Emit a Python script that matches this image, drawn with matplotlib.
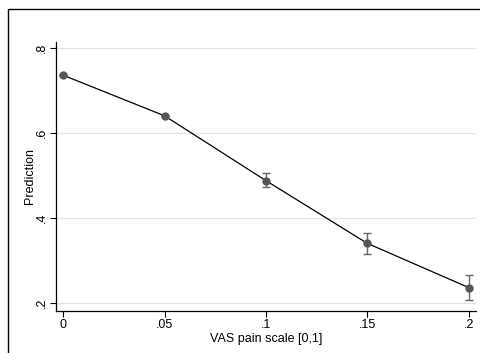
import matplotlib.pyplot as plt
from matplotlib.patches import Rectangle

plt.rcParams['font.family'] = ['Liberation Sans', 'DejaVu Sans']

vas = [0, 0.05, 0.1, 0.15, 0.2]
pred = [0.7365, 0.641, 0.4885, 0.341, 0.237]
ci_low = [0.7365, 0.641, 0.474, 0.317, 0.207]
ci_high = [0.7365, 0.641, 0.507, 0.366, 0.266]
xticks = [0, 0.05, 0.1, 0.15, 0.2]
xlabels = ['0', '.05', '.1', '.15', '.2']
yticks = [0.2, 0.4, 0.6, 0.8]
ylabels = ['.2', '.4', '.6', '.8']

W, H = 480, 353
fig = plt.figure(figsize=(4.8, 3.53), dpi=100)
fig.patch.set_facecolor('white')

# outer frame (cropped Stata graph border)
fig.patches.append(Rectangle((8 / W, -0.1), 1.2, 1 - 9 / H + 0.1, transform=fig.transFigure,
                             fill=False, edgecolor='black', linewidth=1.0))

ax = fig.add_axes([56 / W, 1 - 311 / H, 420 / W, 269 / H])

err_lo = [p - l for p, l in zip(pred, ci_low)]
err_hi = [h - p for p, h in zip(pred, ci_high)]
ax.errorbar(vas, pred, yerr=[err_lo, err_hi], fmt='none', ecolor='#666666',
            elinewidth=1.0, capsize=3, capthick=1.0, zorder=2)
ax.plot(vas, pred, color='black', linewidth=0.9, zorder=3)
ax.plot(vas, pred, 'o', color='#555555', markersize=5, zorder=4)

ax.set_xlim(-0.0036, 0.2036)
ax.set_ylim(0.1819, 0.8148)
ax.set_xticks(xticks)
ax.set_xticklabels(xlabels)
ax.set_yticks(yticks)
ax.set_yticklabels(ylabels, rotation=90, va='center')
ax.yaxis.grid(True, color='#e4e4e4', linewidth=0.9)
ax.set_axisbelow(True)
for s in ['top', 'right']:
    ax.spines[s].set_visible(False)
for s in ['left', 'bottom']:
    ax.spines[s].set_linewidth(0.9)
ax.tick_params(length=4, width=0.8, labelsize=9, pad=2)
ax.set_xlabel('VAS pain scale [0,1]', fontsize=9, labelpad=1)
ax.set_ylabel('Prediction', fontsize=9, labelpad=0)

fig.savefig('out.png', dpi=100)
